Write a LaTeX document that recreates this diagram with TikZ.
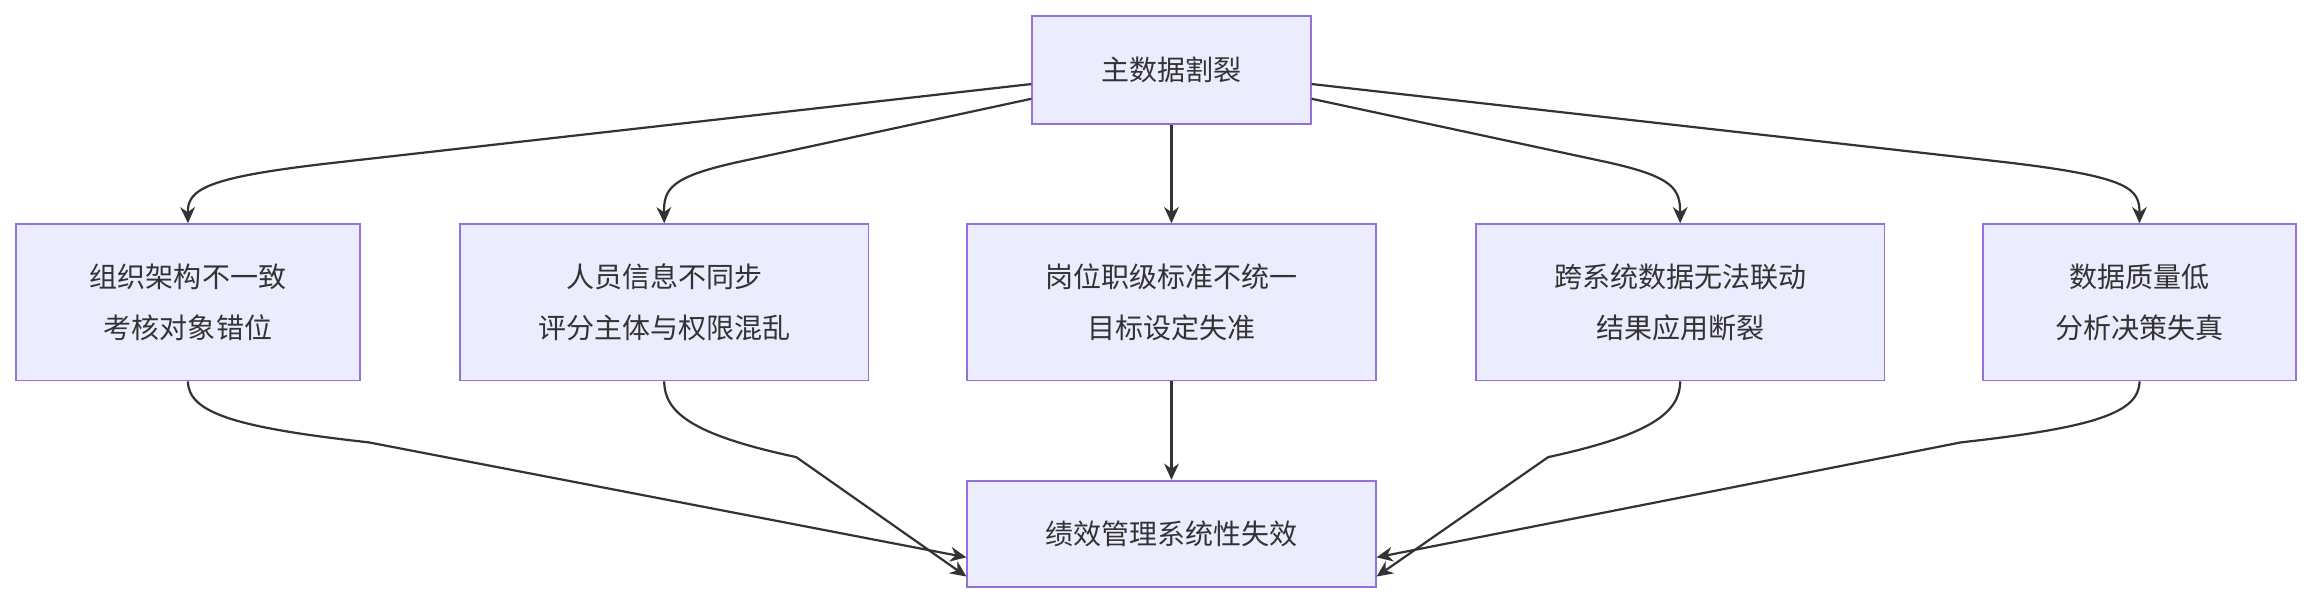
\documentclass[tikz,border=0pt]{standalone}
\usepackage{fontspec}
\setmainfont{Noto Sans CJK SC}
\usetikzlibrary{arrows.meta}
\begin{document}
\begin{tikzpicture}[x=1pt,y=-1pt,
  box/.style={draw=violet!60!purple!40!blue!70,draw={rgb,255:red,147;green,112;blue,219},fill={rgb,255:red,236;green,236;blue,255},line width=1.2pt,align=center,font=\fontsize{19pt}{35pt}\selectfont,text={rgb,255:red,51;green,51;blue,51},inner sep=0pt},
  arr/.style={draw={rgb,255:red,51;green,51;blue,51},line width=1.5pt,-{Stealth[length=11pt,width=10pt]}}]
\useasboundingbox (0,0) rectangle (1568,410);
\node[box,minimum width=189pt,minimum height=73pt] (top) at (794.5,47.5) {主数据割裂};
\node[box,minimum width=233pt,minimum height=106pt] (a) at (127.5,205) {组织架构不一致\\考核对象错位};
\node[box,minimum width=277pt,minimum height=106pt] (b) at (450.5,205) {人员信息不同步\\评分主体与权限混乱};
\node[box,minimum width=277pt,minimum height=106pt] (c) at (794.5,205) {岗位职级标准不统一\\目标设定失准};
\node[box,minimum width=277pt,minimum height=106pt] (d) at (1139.5,205) {跨系统数据无法联动\\结果应用断裂};
\node[box,minimum width=212pt,minimum height=106pt] (e) at (1451,205) {数据质量低\\分析决策失真};
\node[box,minimum width=277pt,minimum height=72pt] (bot) at (794.5,362) {绩效管理系统性失效};
\draw[arr] ([yshift=-9.5pt]top.west) -- (230,110) .. controls (140,120) and (127,128) .. (a.north);
\draw[arr] ([yshift=-19.5pt]top.west) -- (500,110) .. controls (455,120) and (450,128) .. (b.north);
\draw[arr] (top) -- (c);
\draw[arr] ([yshift=-19.5pt]top.east) -- (1090,110) .. controls (1135,120) and (1139.5,128) .. (d.north);
\draw[arr] ([yshift=-9.5pt]top.east) -- (1360,110) .. controls (1445,120) and (1451,128) .. (e.north);
\draw[arr] (a.south) .. controls (127.5,280) and (160,290) .. (250,300) -- ([yshift=-16pt]bot.west);
\draw[arr] (b.south) .. controls (450.5,280) and (470,295) .. (540,310) -- ([yshift=-29pt]bot.west);
\draw[arr] (c) -- (bot);
\draw[arr] (d.south) .. controls (1139.5,280) and (1119,295) .. (1050,310) -- ([yshift=-29pt]bot.east);
\draw[arr] (e.south) .. controls (1451,280) and (1420,290) .. (1330,300) -- ([yshift=-16pt]bot.east);
\end{tikzpicture}
\end{document}
